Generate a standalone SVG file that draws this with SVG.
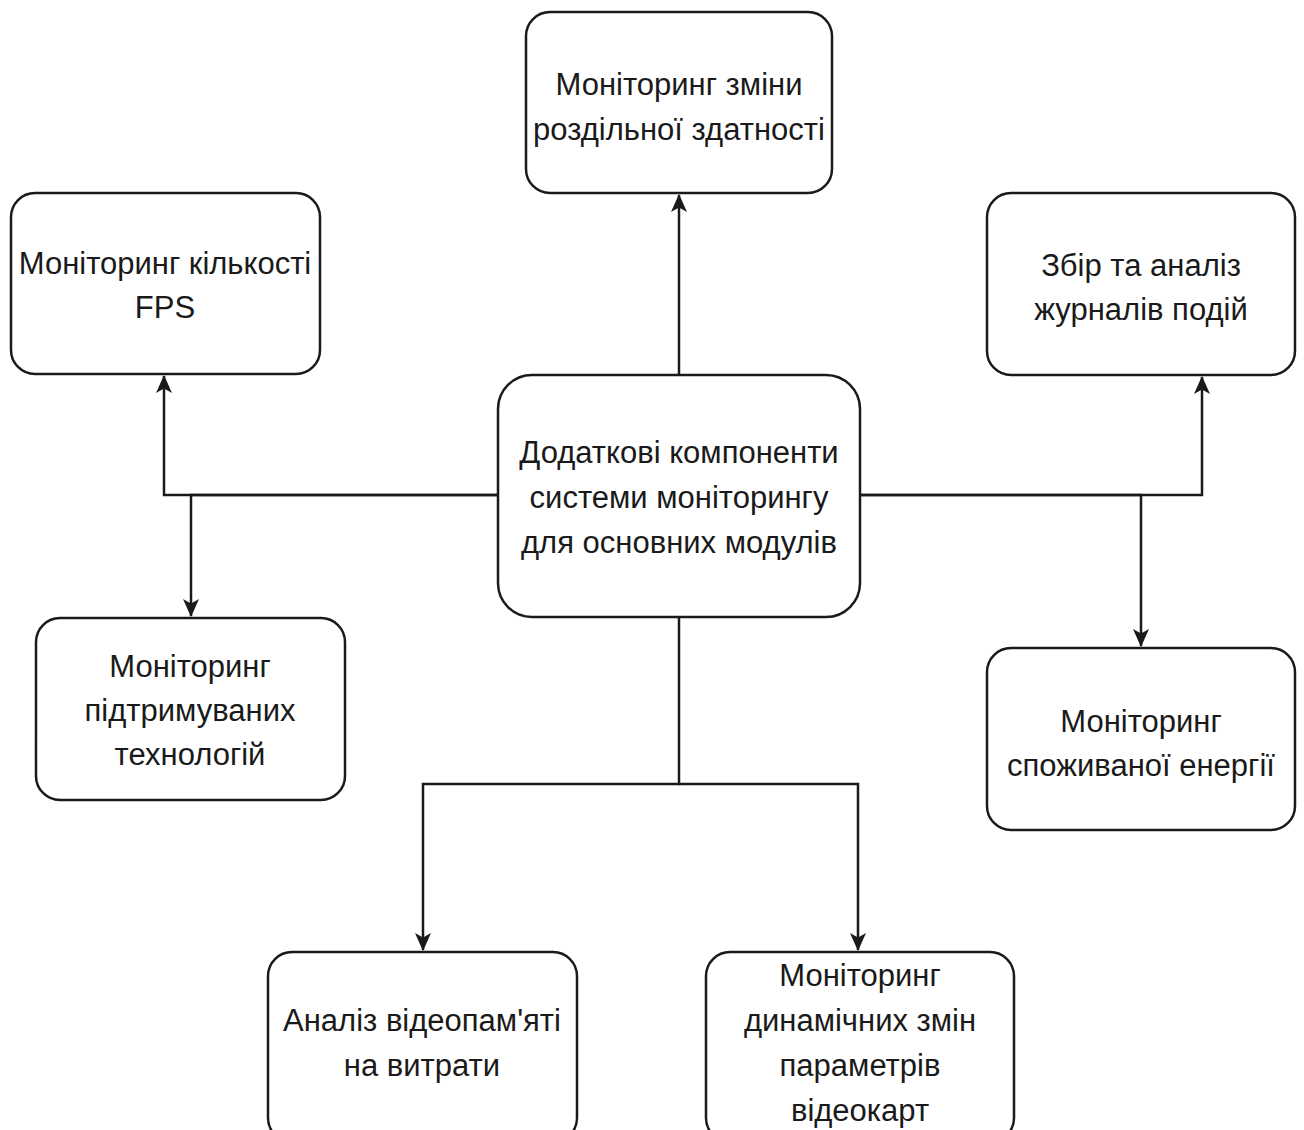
<svg xmlns="http://www.w3.org/2000/svg" width="1304" height="1130" viewBox="0 0 1304 1130">
  <style>
    .box { fill: #ffffff; stroke: #1a1a1a; stroke-width: 2.5; }
    .lbl { font-family: "Liberation Sans", Arial, sans-serif; font-size: 31px; fill: #1a1a1a; text-anchor: middle; }
    .wire { fill: none; stroke: #1a1a1a; stroke-width: 2.5; }
  </style>
  <defs>
    <marker id="arrow" viewBox="0 0 18 16" refX="17" refY="8" markerWidth="18" markerHeight="16" markerUnits="userSpaceOnUse" orient="auto">
      <path d="M0,0 L18,8 L0,16 L4.5,8 Z" fill="#1a1a1a"/>
    </marker>
  </defs>
  <rect x="0" y="0" width="1304" height="1130" fill="#ffffff"/>

  <g id="connectors">
    <path class="wire" d="M679,375 V195" marker-end="url(#arrow)"/>
    <path class="wire" d="M498,495 H164 V376" marker-end="url(#arrow)"/>
    <path class="wire" d="M498,495 H191 V616" marker-end="url(#arrow)"/>
    <path class="wire" d="M860,495 H1202 V377" marker-end="url(#arrow)"/>
    <path class="wire" d="M860,495 H1141 V646" marker-end="url(#arrow)"/>
    <path class="wire" d="M679,617 V784 H423 V950" marker-end="url(#arrow)"/>
    <path class="wire" d="M679,784 H858 V950" marker-end="url(#arrow)"/>
  </g>

  <g id="node-center">
    <rect class="box" x="498" y="375" width="362" height="242" rx="34"/>
    <text class="lbl" x="679" y="463">Додаткові компоненти</text>
    <text class="lbl" x="679" y="508">системи моніторингу</text>
    <text class="lbl" x="679" y="553">для основних модулів</text>
  </g>

  <g id="node-resolution">
    <rect class="box" x="526" y="12" width="306" height="181" rx="24"/>
    <text class="lbl" x="679" y="95">Моніторинг зміни</text>
    <text class="lbl" x="679" y="140">роздільної здатності</text>
  </g>

  <g id="node-fps">
    <rect class="box" x="11" y="193" width="309" height="181" rx="24"/>
    <text class="lbl" x="165" y="274">Моніторинг кількості</text>
    <text class="lbl" x="165" y="318">FPS</text>
  </g>

  <g id="node-logs">
    <rect class="box" x="987" y="193" width="308" height="182" rx="24"/>
    <text class="lbl" x="1141" y="276">Збір та аналіз</text>
    <text class="lbl" x="1141" y="320">журналів подій</text>
  </g>

  <g id="node-tech">
    <rect class="box" x="36" y="618" width="309" height="182" rx="24"/>
    <text class="lbl" x="190" y="677">Моніторинг</text>
    <text class="lbl" x="190" y="721">підтримуваних</text>
    <text class="lbl" x="190" y="765">технологій</text>
  </g>

  <g id="node-energy">
    <rect class="box" x="987" y="648" width="308" height="182" rx="24"/>
    <text class="lbl" x="1141" y="732">Моніторинг</text>
    <text class="lbl" x="1141" y="776">споживаної енергії</text>
  </g>

  <g id="node-vram">
    <rect class="box" x="268" y="952" width="309" height="190" rx="24"/>
    <text class="lbl" x="422" y="1031">Аналіз відеопам'яті</text>
    <text class="lbl" x="422" y="1076">на витрати</text>
  </g>

  <g id="node-gpu">
    <rect class="box" x="706" y="952" width="308" height="190" rx="24"/>
    <text class="lbl" x="860" y="986">Моніторинг</text>
    <text class="lbl" x="860" y="1031">динамічних змін</text>
    <text class="lbl" x="860" y="1076">параметрів</text>
    <text class="lbl" x="860" y="1121">відеокарт</text>
  </g>
</svg>
